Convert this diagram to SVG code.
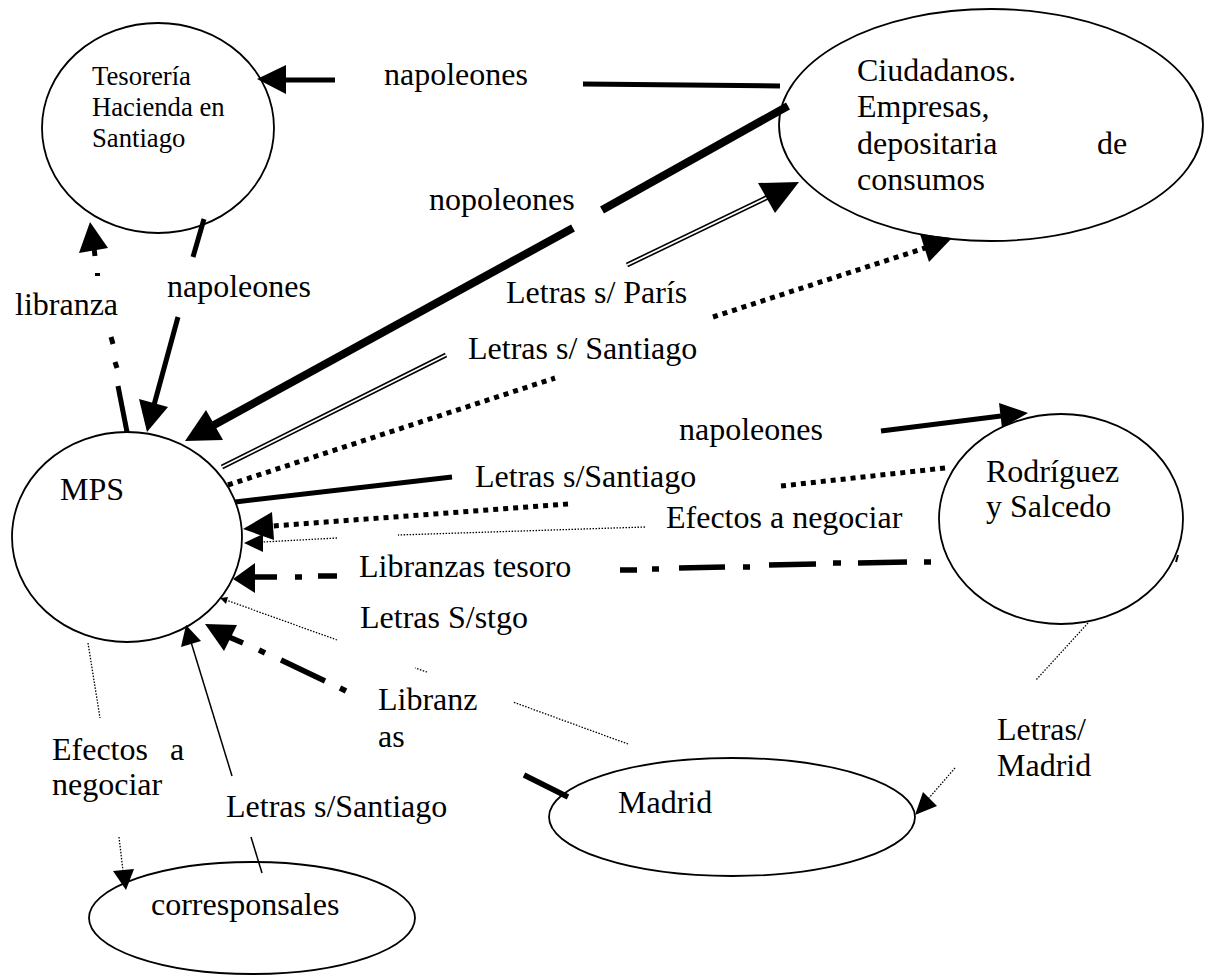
<svg xmlns="http://www.w3.org/2000/svg" width="1205" height="976" viewBox="0 0 1205 976">
<style>
text{font-family:"Liberation Serif","Times New Roman",serif;font-size:32px;fill:#000}
.small{font-size:26.7px}
.node{fill:#fff;stroke:#000;stroke-width:1.8}
.thick{stroke:#000;stroke-width:5;fill:none}
.xthick{stroke:#000;stroke-width:8;fill:none}
.dblo{stroke:#000;stroke-width:5;fill:none}
.dbli{stroke:#fff;stroke-width:1.8;fill:none}
.sq{stroke:#000;stroke-width:5;stroke-dasharray:5 5;fill:none}
.thin{stroke:#000;stroke-width:1.5;fill:none}
.fine{stroke:#000;stroke-width:1.3;stroke-dasharray:1.5 1.5;fill:none}
.ah{fill:#000;stroke:none}
</style>
<rect width="1205" height="976" fill="#fff"/>

<g id="tesoreria">
<ellipse class="node" cx="158" cy="128" rx="116" ry="105"/>
<text class="small" x="92" y="85">Tesorería</text>
<text class="small" x="92" y="116">Hacienda en</text>
<text class="small" x="92" y="147">Santiago</text>
</g>

<g id="ciudadanos">
<ellipse class="node" cx="991" cy="125" rx="212" ry="116"/>
<text x="857" y="81">Ciudadanos.</text>
<text x="857" y="117">Empresas,</text>
<text x="857" y="154">depositaria</text>
<text x="1097" y="154">de</text>
<text x="857" y="190">consumos</text>
</g>

<g id="mps">
<ellipse class="node" cx="127" cy="537" rx="115" ry="105"/>
<text x="60" y="500">MPS</text>
</g>

<g id="rodriguez">
<ellipse class="node" cx="1061" cy="519" rx="122" ry="105"/>
<line x1="1178" y1="555" x2="1176" y2="562" stroke="#000" stroke-width="2"/>
<text x="986" y="482">Rodríguez</text>
<text x="986" y="517">y Salcedo</text>
</g>

<g id="madrid">
<ellipse class="node" cx="732" cy="817" rx="183" ry="59"/>
<text x="618" y="813">Madrid</text>
</g>

<g id="corresponsales">
<ellipse class="node" cx="252" cy="918" rx="163" ry="56"/>
<text x="151" y="915">corresponsales</text>
</g>

<g id="connectors">
<!-- Ciudadanos -> Tesoreria napoleones -->
<line class="thick" x1="583" y1="84" x2="780" y2="86"/>
<line class="thick" x1="335" y1="80" x2="284" y2="80"/>
<polygon class="ah" points="257,79 286,65 286,94"/>

<!-- Tesoreria -> MPS napoleones -->
<line class="thick" x1="204" y1="219" x2="193" y2="257"/>
<line class="thick" x1="178" y1="317" x2="154" y2="405"/>
<polygon class="ah" points="147,432 139,399 168,407"/>

<!-- MPS -> Tesoreria libranza (dash-dot) -->
<line class="thick" x1="127" y1="432" x2="118" y2="386"/>
<line class="thick" x1="117" y1="368" x2="115" y2="362"/>
<line class="thick" x1="113" y1="344" x2="111" y2="337"/>
<line x1="95" y1="274.5" x2="100" y2="274.5" stroke="#000" stroke-width="3"/>
<line class="thick" x1="95" y1="256" x2="94" y2="248"/>
<polygon class="ah" points="90,222 79,253 108,248"/>

<!-- Ciudadanos -> MPS nopoleones -->
<line class="xthick" x1="788" y1="106" x2="602" y2="210"/>
<line class="xthick" x1="573" y1="228" x2="214" y2="425"/>
<polygon class="ah" points="185,441 206,410 223,440"/>

<!-- MPS -> Ciudadanos Letras s/ Paris (double line) -->
<line class="dblo" x1="222" y1="467" x2="446" y2="355"/>
<line class="dbli" x1="222" y1="467" x2="446" y2="355"/>
<line class="dblo" x1="627" y1="265" x2="768" y2="197"/>
<line class="dbli" x1="627" y1="265" x2="768" y2="197"/>
<polygon class="ah" points="799,182 758,183 775,213"/>

<!-- MPS -> Ciudadanos dotted -->
<line class="sq" x1="228" y1="485" x2="555" y2="378"/>
<line class="sq" x1="713" y1="317" x2="925" y2="248"/>
<polygon class="ah" points="952,238 920,234 929,262"/>

<!-- MPS -> Rodriguez napoleones -->
<line class="thick" x1="235" y1="502" x2="452" y2="477"/>
<line class="thick" x1="881" y1="431" x2="1001" y2="416"/>
<polygon class="ah" points="1028,413 999,403 1002,428"/>

<!-- Rodriguez -> MPS thick dotted -->
<line class="sq" x1="945" y1="468" x2="781" y2="486"/>
<line class="sq" x1="568" y1="504" x2="273" y2="526"/>
<polygon class="ah" points="243,529 272,512 274,540"/>

<!-- Rodriguez -> MPS fine dotted (Efectos a negociar) -->
<line class="fine" x1="645" y1="527" x2="398" y2="535"/>
<line class="fine" x1="337" y1="538" x2="263" y2="542"/>
<polygon class="ah" points="244,543 263,534 263,552"/>

<!-- Rodriguez -> MPS Libranzas tesoro (dash-dot) -->
<g stroke="#000" stroke-width="5.5">
<line x1="931" y1="562" x2="924" y2="562"/>
<line x1="907" y1="562" x2="858" y2="563"/>
<line x1="841" y1="563" x2="833" y2="563"/>
<line x1="816" y1="564" x2="769" y2="565"/>
<line x1="750" y1="567" x2="743" y2="567"/>
<line x1="725" y1="567" x2="679" y2="568"/>
<line x1="659" y1="569" x2="652" y2="569"/>
<line x1="637" y1="570" x2="620" y2="570"/>
<line x1="337" y1="576" x2="318" y2="576"/>
<line x1="302" y1="577" x2="295" y2="577"/>
<line x1="277" y1="577" x2="253" y2="577"/>
</g>
<polygon class="ah" points="233,579 255,563 255,593"/>

<!-- Madrid -> MPS Libranzas (dash-dot) -->
<g stroke="#000" stroke-width="5.5">
<line x1="568" y1="797" x2="524" y2="775"/>
<line x1="346" y1="691" x2="340" y2="688"/>
<line x1="325" y1="681" x2="281" y2="660"/>
<line x1="265" y1="653" x2="259" y2="650"/>
<line x1="243" y1="643" x2="229" y2="637"/>
</g>
<polygon class="ah" points="205,624 237,625 224,651"/>

<!-- Madrid -> MPS fine dotted (Letras S/stgo) -->
<line class="fine" x1="628" y1="744" x2="513" y2="702"/>
<line class="fine" x1="427" y1="672" x2="415" y2="668"/>
<line class="fine" x1="337" y1="640" x2="226" y2="600"/>
<polygon class="ah" points="220,598 228,597 226,604"/>

<!-- Rodriguez -> Madrid fine dotted (Letras/ Madrid) -->
<line class="fine" x1="1088" y1="623" x2="1036" y2="680"/>
<line class="fine" x1="955" y1="768" x2="929" y2="798"/>
<polygon class="ah" points="915,815 923,792 937,806"/>

<!-- MPS -> corresponsales fine dotted (Efectos a negociar) -->
<line class="fine" x1="88" y1="643" x2="100" y2="718"/>
<line class="fine" x1="119" y1="837" x2="123" y2="871"/>
<polygon class="ah" points="126,890 113,871 134,869"/>

<!-- corresponsales -> MPS thin (Letras s/Santiago) -->
<line class="thin" x1="262" y1="873" x2="251" y2="837"/>
<line class="thin" x1="232" y1="776" x2="191" y2="642"/>
<polygon class="ah" points="186,625 181,647 201,641"/>
</g>

<g id="labels">
<text x="384" y="85">napoleones</text>
<text x="429" y="210">nopoleones</text>
<text x="167" y="297">napoleones</text>
<text x="15" y="315">libranza</text>
<text x="506" y="303">Letras s/ París</text>
<text x="468" y="359">Letras s/ Santiago</text>
<text x="679" y="440">napoleones</text>
<text x="475" y="487">Letras s/Santiago</text>
<text x="666" y="528">Efectos a negociar</text>
<text x="359" y="577">Libranzas tesoro</text>
<text x="360" y="628">Letras S/stgo</text>
<text x="378" y="710">Libranz</text>
<text x="378" y="747">as</text>
<text x="52" y="760">Efectos</text>
<text x="170" y="760">a</text>
<text x="52" y="795">negociar</text>
<text x="226" y="817">Letras s/Santiago</text>
<text x="997" y="740">Letras/</text>
<text x="997" y="776">Madrid</text>
</g>
</svg>
